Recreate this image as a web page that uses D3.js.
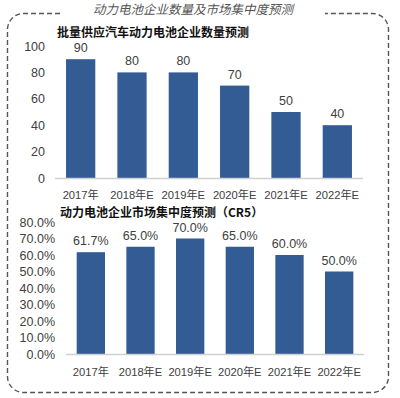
<!DOCTYPE html>
<html>
<head>
<meta charset="utf-8">
<script src="https://cdn.jsdelivr.net/npm/d3@7"></script>
<style>
  body { margin: 0; background: #fff; }
  svg { display: block; }
  text { font-family: "Liberation Sans", Arial, "Noto Sans CJK SC", sans-serif; fill: #404040; }
  .cjk { font-family: "Noto Sans CJK SC", sans-serif; }
</style>
</head>
<body>
<div id="chart"></div>
<script>
const years = ["2017年", "2018年E", "2019年E", "2020年E", "2021年E", "2022年E"];
const companyCount = [90, 80, 80, 70, 50, 40];
const concentration = [61.7, 65.0, 70.0, 65.0, 60.0, 50.0];
const countTicks = [0, 20, 40, 60, 80, 100];
const shareTicks = [0, 10, 20, 30, 40, 50, 60, 70, 80];

const barColor = "#335b94";
const W = 400, H = 398;

const svg = d3.select('#chart').append('svg')
  .attr('width', W).attr('height', H);

// dashed rounded frame with a gap for the header
const r = 16, L = 7.5, T = 13.5, R = 388.5, B = 392.5;
const framePath = d3.path();
framePath.moveTo(60, T);
framePath.lineTo(L + r, T);
framePath.arcTo(L, T, L, T + r, r);
framePath.lineTo(L, B - r);
framePath.arcTo(L, B, L + r, B, r);
framePath.lineTo(R - r, B);
framePath.arcTo(R, B, R, B - r, r);
framePath.lineTo(R, T + r);
framePath.arcTo(R, T, R - r, T, r);
framePath.lineTo(325, T);
svg.append('path')
  .attr('d', framePath.toString())
  .attr('fill', 'none')
  .attr('stroke', '#555')
  .attr('stroke-width', 1.4)
  .attr('stroke-dasharray', '5,3');

svg.append('text')
  .attr('class', 'cjk')
  .attr('x', 193).attr('y', 13.5)
  .attr('text-anchor', 'middle')
  .attr('font-size', 12.5)
  .attr('font-style', 'italic')
  .style('fill', '#555')
  .text('动力电池企业数量及市场集中度预测');

//Draw one bar panel
var drawPanel = function (opts) {
  var x = d3.scaleBand().domain(years).range(opts.xRange).paddingInner(0.43).paddingOuter(0.215);
  var y = d3.scaleLinear().domain(opts.domain).range([opts.y0, opts.y1]);
  var g = svg.append('g');

  g.append('text')
    .attr('class', 'cjk')
    .attr('x', opts.titleX).attr('y', opts.titleY)
    .attr('font-size', 12)
    .attr('font-weight', 'bold')
    .style('fill', '#111')
    .text(opts.title);

  g.selectAll('.tick-label')
    .data(opts.ticks)
    .enter().append('text')
    .attr('x', opts.tickX)
    .attr('y', d => y(d) + 4.5)
    .attr('text-anchor', 'end')
    .attr('font-size', 12.5)
    .text(opts.tickFmt);

  g.selectAll('rect')
    .data(opts.values)
    .enter().append('rect')
    .attr('x', (d, i) => x(years[i]))
    .attr('width', x.bandwidth())
    .attr('y', d => y(d))
    .attr('height', d => y(0) - y(d))
    .attr('fill', barColor);

  g.append('line')
    .attr('x1', opts.xRange[0]).attr('x2', opts.xRange[1])
    .attr('y1', y(0) + 0.5).attr('y2', y(0) + 0.5)
    .attr('stroke', '#d0d0d0').attr('stroke-width', 1.5);

  g.selectAll('.val')
    .data(opts.values)
    .enter().append('text')
    .attr('x', (d, i) => x(years[i]) + x.bandwidth() / 2)
    .attr('y', d => y(d) - 7)
    .attr('text-anchor', 'middle')
    .attr('font-size', 12.5)
    .text(opts.valFmt);

  g.selectAll('.cat')
    .data(years)
    .enter().append('text')
    .attr('x', d => x(d) + x.bandwidth() / 2)
    .attr('y', opts.catY)
    .attr('text-anchor', 'middle')
    .attr('font-size', 11.2)
    .text(d => d);
};

drawPanel({
  title: '批量供应汽车动力电池企业数量预测',
  titleX: 57, titleY: 37,
  values: companyCount,
  ticks: countTicks,
  domain: [0, 100],
  y0: 178, y1: 46,
  xRange: [55, 363],
  tickX: 45,
  catY: 199,
  tickFmt: d => d,
  valFmt: d => d
});

drawPanel({
  title: '动力电池企业市场集中度预测（CR5）',
  titleX: 60, titleY: 217,
  values: concentration,
  ticks: shareTicks,
  domain: [0, 80],
  y0: 354, y1: 222,
  xRange: [66, 364],
  tickX: 55,
  catY: 376,
  tickFmt: d => d.toFixed(1) + '%',
  valFmt: d => d.toFixed(1) + '%'
});
</script>
</body>
</html>
